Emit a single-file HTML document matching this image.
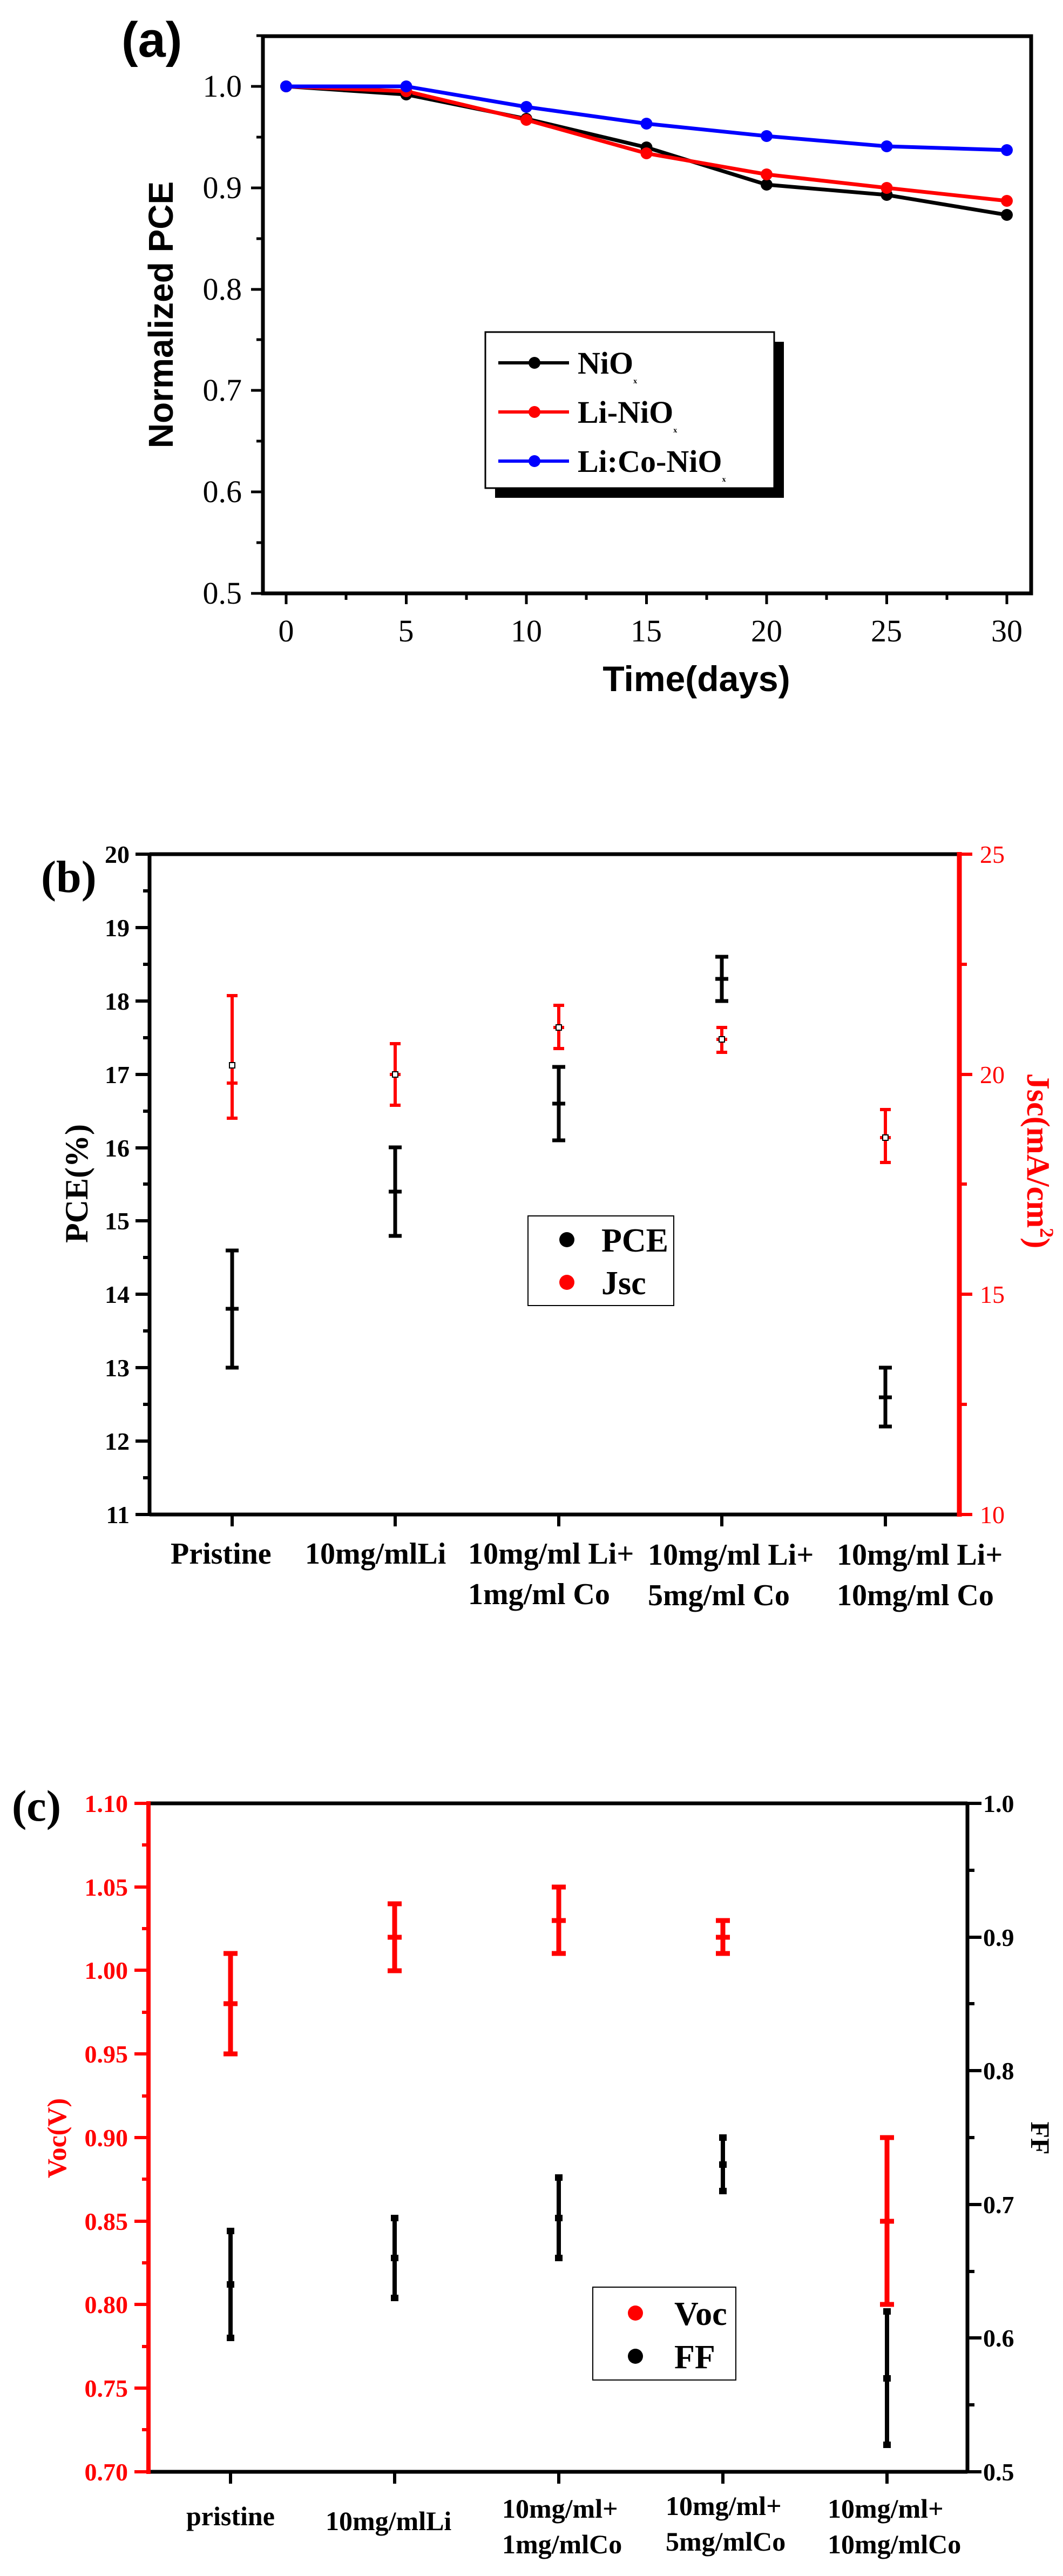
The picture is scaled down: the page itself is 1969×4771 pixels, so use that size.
<!DOCTYPE html>
<html><head><meta charset="utf-8"><style>html,body{margin:0;padding:0;background:#fff}svg{display:block}</style></head>
<body>
<svg width="1969" height="4771" viewBox="0 0 1969 4771" xmlns="http://www.w3.org/2000/svg" font-family="'Liberation Serif', serif">
<!-- ===== Panel a ===== -->
<text x="225" y="105" font-family="'Liberation Sans', sans-serif" font-weight="bold" font-size="92">(a)</text>
<rect x="487" y="67" width="1423" height="1032" fill="none" stroke="#000" stroke-width="7"/>
<g stroke="#000" stroke-width="5">
<path d="M487 1099h-22M487 911h-22M487 723h-22M487 536h-22M487 348h-22M487 160h-22"/>
<path d="M487 1005h-12M487 817h-12M487 629h-12M487 442h-12M487 254h-12M487 66h-12"/>
<path d="M530 1099v20M752.5 1099v20M975 1099v20M1197.5 1099v20M1420 1099v20M1642.5 1099v20M1865 1099v20"/>
<path d="M641 1099v12M864 1099v12M1086 1099v12M1309 1099v12M1531 1099v12M1754 1099v12"/>
</g>
<g font-size="58" text-anchor="end">
<text x="448" y="1118">0.5</text><text x="448" y="930">0.6</text><text x="448" y="742">0.7</text><text x="448" y="555">0.8</text><text x="448" y="367">0.9</text><text x="448" y="179">1.0</text>
</g>
<g font-size="58" text-anchor="middle">
<text x="530" y="1188">0</text><text x="752" y="1188">5</text><text x="975" y="1188">10</text><text x="1197" y="1188">15</text><text x="1420" y="1188">20</text><text x="1642" y="1188">25</text><text x="1865" y="1188">30</text>
</g>
<text x="1290" y="1280" text-anchor="middle" font-family="'Liberation Sans', sans-serif" font-weight="bold" font-size="66">Time(days)</text>
<text transform="translate(320,583) rotate(-90)" text-anchor="middle" font-family="'Liberation Sans', sans-serif" font-weight="bold" font-size="64">Normalized PCE</text>
<g fill="none" stroke-width="7" stroke-linejoin="round">
<polyline stroke="#000" points="530,160 752.5,175 975,220 1197.5,273 1420,342 1642.5,361 1865,398"/>
<polyline stroke="#f00" points="530,160 752.5,169 975,222 1197.5,284 1420,323 1642.5,348 1865,372"/>
<polyline stroke="#00f" points="530,160 752.5,160 975,198 1197.5,229 1420,252 1642.5,271 1865,278"/>
</g>
<g fill="#000"><circle cx="530" cy="160" r="11"/><circle cx="752.5" cy="175" r="11"/><circle cx="975" cy="220" r="11"/><circle cx="1197.5" cy="273" r="11"/><circle cx="1420" cy="342" r="11"/><circle cx="1642.5" cy="361" r="11"/><circle cx="1865" cy="398" r="11"/></g>
<g fill="#f00"><circle cx="530" cy="160" r="11"/><circle cx="752.5" cy="169" r="11"/><circle cx="975" cy="222" r="11"/><circle cx="1197.5" cy="284" r="11"/><circle cx="1420" cy="323" r="11"/><circle cx="1642.5" cy="348" r="11"/><circle cx="1865" cy="372" r="11"/></g>
<g fill="#00f"><circle cx="530" cy="160" r="11"/><circle cx="752.5" cy="160" r="11"/><circle cx="975" cy="198" r="11"/><circle cx="1197.5" cy="229" r="11"/><circle cx="1420" cy="252" r="11"/><circle cx="1642.5" cy="271" r="11"/><circle cx="1865" cy="278" r="11"/></g>
<rect x="917" y="633" width="535" height="289" fill="#000"/>
<rect x="899" y="615" width="535" height="289" fill="#fff" stroke="#000" stroke-width="3"/>
<g stroke-width="6"><path d="M923 672h131" stroke="#000"/><path d="M923 763h131" stroke="#f00"/><path d="M923 854h131" stroke="#00f"/></g>
<circle cx="990" cy="672" r="11" fill="#000"/><circle cx="990" cy="763" r="11" fill="#f00"/><circle cx="990" cy="854" r="11" fill="#00f"/>
<g font-size="58" font-weight="bold">
<text x="1070" y="692">NiO<tspan font-size="14" dy="18">x</tspan></text>
<text x="1070" y="783">Li-NiO<tspan font-size="14" dy="18">x</tspan></text>
<text x="1070" y="874">Li:Co-NiO<tspan font-size="14" dy="18">x</tspan></text>
</g>

<!-- ===== Panel b ===== -->
<text x="76" y="1652" font-weight="bold" font-size="84">(b)</text>
<path d="M277 1582H1777M277 2805H1777M277 1582V2805" stroke="#000" stroke-width="7" fill="none"/>
<path d="M1777 1578V2809" stroke="#f00" stroke-width="9"/>
<g stroke="#000" stroke-width="6">
<path d="M277 2805h-26M277 2669h-26M277 2533h-26M277 2397h-26M277 2261h-26M277 2126h-26M277 1990h-26M277 1854h-26M277 1718h-26M277 1582h-26"/>
<path d="M277 2737h-12M277 2601h-12M277 2465h-12M277 2329h-12M277 2193h-12M277 2058h-12M277 1922h-12M277 1786h-12M277 1650h-12"/>
<path d="M430 2805v22M732 2805v22M1035 2805v22M1337 2805v22M1640 2805v22"/>
</g>
<g stroke="#f00" stroke-width="6"><path d="M1777 2805h24M1777 2397h24M1777 1990h24M1777 1582h24M1777 2601h14M1777 2193h14M1777 1786h14"/></g>
<g font-size="46" font-weight="bold" text-anchor="end">
<text x="240" y="2821">11</text><text x="240" y="2685">12</text><text x="240" y="2549">13</text><text x="240" y="2413">14</text><text x="240" y="2277">15</text><text x="240" y="2142">16</text><text x="240" y="2006">17</text><text x="240" y="1870">18</text><text x="240" y="1734">19</text><text x="240" y="1598">20</text>
</g>
<g font-size="46" fill="#f00">
<text x="1815" y="2821">10</text><text x="1815" y="2413">15</text><text x="1815" y="2006">20</text><text x="1815" y="1598">25</text>
</g>
<g font-size="56" font-weight="bold">
<text x="316" y="2896">Pristine</text>
<text x="565" y="2896">10mg/mlLi</text>
<text x="867" y="2896">10mg/ml Li+</text><text x="867" y="2971">1mg/ml Co</text>
<text x="1200" y="2898">10mg/ml Li+</text><text x="1200" y="2973">5mg/ml Co</text>
<text x="1550" y="2898">10mg/ml Li+</text><text x="1550" y="2973">10mg/ml Co</text>
</g>
<text transform="translate(162,2192) rotate(-90)" text-anchor="middle" font-weight="bold" font-size="60">PCE(%)</text>
<text transform="translate(1903,2150) rotate(90)" text-anchor="middle" font-weight="bold" font-size="60" fill="#f00">Jsc(mA/cm<tspan font-size="36" dy="-24">2</tspan><tspan dy="24">)</tspan></text>
<!-- PCE error bars -->
<g stroke="#000" stroke-width="7">
<path d="M430 2533V2316M418 2533h24M418 2316h24M418 2424h24"/>
<path d="M732 2289V2125M720 2289h24M720 2125h24M720 2207h24"/>
<path d="M1035 2112V1976M1023 2112h24M1023 1976h24M1023 2044h24"/>
<path d="M1337 1854V1772M1325 1854h24M1325 1772h24M1325 1813h24"/>
<path d="M1640 2642V2533M1628 2642h24M1628 2533h24M1628 2588h24"/>
</g>
<g stroke="#f00" stroke-width="6">
<path d="M430 2071V1844M420 2071h20M420 1844h20M420 2006h20"/>
<path d="M732 2047V1933M722 2047h20M722 1933h20M722 1990h20"/>
<path d="M1035 1942V1862M1025 1942h20M1025 1862h20M1025 1903h20"/>
<path d="M1337 1949V1903M1327 1949h20M1327 1903h20M1327 1925h20"/>
<path d="M1640 2153V2055M1630 2153h20M1630 2055h20M1630 2107h20"/>
</g>
<rect x="425" y="1968" width="10" height="10" fill="#fff" stroke="#000" stroke-width="2"/>
<rect x="727" y="1985" width="10" height="10" fill="#fff" stroke="#000" stroke-width="2"/>
<rect x="1030" y="1898" width="10" height="10" fill="#fff" stroke="#000" stroke-width="2"/>
<rect x="1332" y="1920" width="10" height="10" fill="#fff" stroke="#000" stroke-width="2"/>
<rect x="1635" y="2102" width="10" height="10" fill="#fff" stroke="#000" stroke-width="2"/>
<rect x="978" y="2252" width="270" height="166" fill="#fff" stroke="#000" stroke-width="2"/>
<circle cx="1050" cy="2296" r="14" fill="#000"/><circle cx="1050" cy="2375" r="14" fill="#f00"/>
<g font-size="62" font-weight="bold"><text x="1114" y="2318">PCE</text><text x="1114" y="2397">Jsc</text></g>

<!-- ===== Panel c ===== -->
<text x="22" y="3372" font-weight="bold" font-size="82">(c)</text>
<path d="M275 3340H1792M275 4578H1792M1792 3340V4578" stroke="#000" stroke-width="7" fill="none"/>
<path d="M275 3336V4582" stroke="#f00" stroke-width="8"/>
<g stroke="#f00" stroke-width="6">
<path d="M275 4578h-26M275 4423h-26M275 4268h-26M275 4114h-26M275 3959h-26M275 3804h-26M275 3649h-26M275 3495h-26M275 3340h-26"/>
<path d="M275 4500h-12M275 4346h-12M275 4191h-12M275 4036h-12M275 3882h-12M275 3727h-12M275 3572h-12M275 3417h-12"/>
</g>
<g stroke="#000" stroke-width="6">
<path d="M1792 4578h26M1792 4330h26M1792 4083h26M1792 3835h26M1792 3588h26M1792 3340h26"/>
<path d="M1792 4454h13M1792 4207h13M1792 3959h13M1792 3711h13M1792 3464h13"/>
<path d="M427 4578v22M731 4578v22M1035 4578v22M1339 4578v22M1643 4578v22"/>
</g>
<g font-size="46" font-weight="bold" fill="#f00" text-anchor="end">
<text x="237" y="4594">0.70</text><text x="237" y="4439">0.75</text><text x="237" y="4284">0.80</text><text x="237" y="4130">0.85</text><text x="237" y="3975">0.90</text><text x="237" y="3820">0.95</text><text x="237" y="3665">1.00</text><text x="237" y="3511">1.05</text><text x="237" y="3356">1.10</text>
</g>
<g font-size="46" font-weight="bold">
<text x="1821" y="4594">0.5</text><text x="1821" y="4346">0.6</text><text x="1821" y="4099">0.7</text><text x="1821" y="3851">0.8</text><text x="1821" y="3604">0.9</text><text x="1821" y="3356">1.0</text>
</g>
<g font-size="50" font-weight="bold">
<text x="345" y="4677">pristine</text>
<text x="603" y="4686">10mg/mlLi</text>
<text x="930" y="4663">10mg/ml+</text><text x="930" y="4729">1mg/mlCo</text>
<text x="1233" y="4658">10mg/ml+</text><text x="1233" y="4724">5mg/mlCo</text>
<text x="1533" y="4663">10mg/ml+</text><text x="1533" y="4729">10mg/mlCo</text>
</g>
<text transform="translate(122,3960) rotate(-90)" text-anchor="middle" font-weight="bold" font-size="50" fill="#f00">Voc(V)</text>
<text transform="translate(1910,3960) rotate(90)" text-anchor="middle" font-weight="bold" font-size="50">FF</text>
<g stroke="#f00" stroke-width="9">
<path d="M427 3804V3618M414 3804h26M414 3618h26M414 3711h26"/>
<path d="M731 3650V3526M718 3650h26M718 3526h26M718 3588h26"/>
<path d="M1035 3618V3495M1022 3618h26M1022 3495h26M1022 3557h26"/>
<path d="M1339 3618V3557M1326 3618h26M1326 3557h26M1326 3588h26"/>
<path d="M1643 4268V3959M1630 4268h26M1630 3959h26M1630 4114h26"/>
</g>
<g stroke="#000" stroke-width="8">
<path d="M427 4330V4132"/><path d="M731 4256V4108"/><path d="M1035 4182V4033"/><path d="M1339 4058V3959"/><path d="M1643 4528V4281"/>
</g>
<g fill="#000">
<rect x="420" y="4324" width="14" height="12"/><rect x="420" y="4126" width="14" height="12"/><rect x="420" y="4225" width="14" height="12"/>
<rect x="724" y="4250" width="14" height="12"/><rect x="724" y="4102" width="14" height="12"/><rect x="724" y="4176" width="14" height="12"/>
<rect x="1028" y="4176" width="14" height="12"/><rect x="1028" y="4027" width="14" height="12"/><rect x="1028" y="4102" width="14" height="12"/>
<rect x="1332" y="4052" width="14" height="12"/><rect x="1332" y="3953" width="14" height="12"/><rect x="1332" y="4003" width="14" height="12"/>
<rect x="1636" y="4522" width="14" height="12"/><rect x="1636" y="4275" width="14" height="12"/><rect x="1636" y="4399" width="14" height="12"/>
</g>
<rect x="1098" y="4236" width="265" height="172" fill="#fff" stroke="#000" stroke-width="2"/>
<circle cx="1177" cy="4284" r="14" fill="#f00"/><circle cx="1177" cy="4364" r="14" fill="#000"/>
<g font-size="62" font-weight="bold"><text x="1249" y="4306">Voc</text><text x="1249" y="4386">FF</text></g>
</svg>
</body></html>
